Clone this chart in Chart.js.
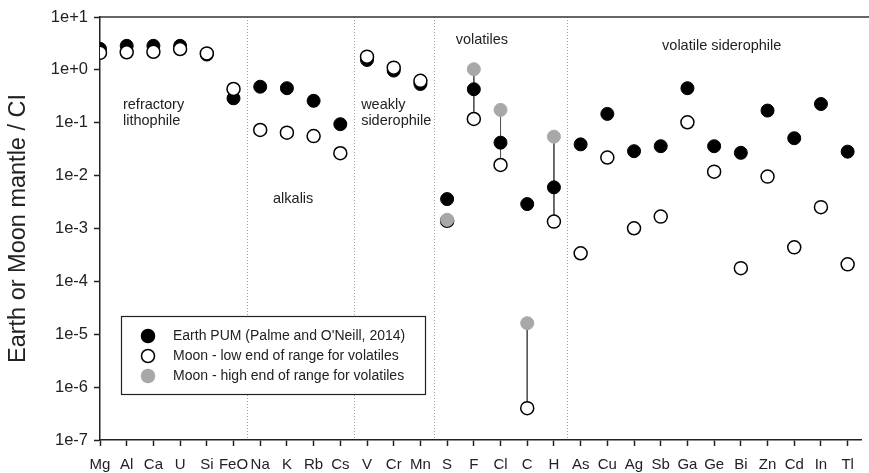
<!DOCTYPE html>
<html>
<head>
<meta charset="utf-8">
<script src="https://cdn.jsdelivr.net/npm/chart.js@4.4.1/dist/chart.umd.min.js"></script>
<style>
  html, body { margin: 0; padding: 0; background: #ffffff; }
  #wrap { width: 869px; height: 473px; position: relative; }
</style>
</head>
<body>
<div id="wrap"><canvas id="chart"></canvas></div>
<script>
// element categories along the x axis
const elements = ["Mg", "Al", "Ca", "U", "Si", "FeO", "Na", "K", "Rb", "Cs", "V", "Cr", "Mn",
  "S", "F", "Cl", "C", "H", "As", "Cu", "Ag", "Sb", "Ga", "Ge", "Bi", "Zn", "Cd", "In", "Tl"];

// Earth PUM (Palme and O'Neill, 2014)
const earthPUM = [2.5, 2.85, 2.85, 2.85, 1.95, 0.29, 0.48, 0.45, 0.26, 0.094, 1.54, 0.97, 0.54,
  0.0036, 0.43, 0.042, 0.0029, 0.006, 0.039, 0.147, 0.029, 0.036, 0.45, 0.036, 0.027, 0.17, 0.051, 0.226, 0.0284];

// Moon - low end of range for volatiles
const moonLow = [2.1, 2.15, 2.2, 2.48, 2.05, 0.435, 0.073, 0.065, 0.056, 0.0265, 1.78, 1.1, 0.62,
  0.0014, 0.118, 0.0159, 4.0e-7, 0.00135, 3.4e-4, 0.022, 0.00101, 0.00168, 0.102, 0.0119, 1.78e-4, 0.0096, 4.4e-4, 0.00253, 2.1e-4];

// Moon - high end of range for volatiles (only volatiles)
const moonHigh = [null, null, null, null, null, null, null, null, null, null, null, null, null,
  0.00146, 1.03, 0.175, 1.62e-5, 0.0546, null, null, null, null, null, null, null, null, null, null, null];

// group separators (between categories) and decade ticks
const separators = [5.5, 9.5, 12.5, 17.5];
const decades = [1e-7, 1e-6, 1e-5, 1e-4, 1e-3, 1e-2, 1e-1, 1e0, 1e1];

const groupLabels = [
  { lines: ["refractory", "lithophile"], x: 0.86, y: 0.217 },
  { lines: ["alkalis"], x: 6.48, y: 0.0036 },
  { lines: ["weakly", "siderophile"], x: 9.78, y: 0.217 },
  { lines: ["volatiles"], x: 13.32, y: 3.72 },
  { lines: ["volatile siderophile"], x: 21.05, y: 2.79 },
];

const legendItems = [
  { text: "Earth PUM (Palme and O'Neill, 2014)", fill: "#000000", stroke: "#000000" },
  { text: "Moon - low end of range for volatiles", fill: "#ffffff", stroke: "#000000" },
  { text: "Moon - high end of range for volatiles", fill: "#a8a8a8", stroke: "#a8a8a8" },
];

const FONT = "Arial, 'Liberation Sans', sans-serif";

function toPoints(arr) {
  return arr.map((v, i) => (v == null ? null : { x: i, y: v })).filter((p) => p);
}

// vertical range lines from high end to low end for the volatiles
const rangeLines = [];
moonHigh.forEach((v, i) => {
  if (v != null && Math.abs(Math.log10(v) - Math.log10(moonLow[i])) > 0.2) {
    rangeLines.push({ x: i, y: v }, { x: i, y: moonLow[i] }, { x: i, y: null });
  }
});

const extras = {
  id: "extras",
  beforeDatasetsDraw(chart) {
    const { ctx, chartArea, scales } = chart;
    ctx.save();
    // dotted group separators
    ctx.strokeStyle = "#a0a0a0";
    ctx.lineWidth = 1;
    ctx.setLineDash([1, 2]);
    separators.forEach((s) => {
      const x = Math.round(scales.x.getPixelForValue(s)) + 0.5;
      ctx.beginPath();
      ctx.moveTo(x, chartArea.top);
      ctx.lineTo(x, chartArea.bottom);
      ctx.stroke();
    });
    ctx.setLineDash([]);
    // top frame line
    ctx.strokeStyle = "#333333";
    ctx.lineWidth = 1.5;
    ctx.beginPath();
    ctx.moveTo(chartArea.left, chartArea.top);
    ctx.lineTo(chart.width, chartArea.top);
    ctx.stroke();
    // group labels
    ctx.fillStyle = "#222222";
    ctx.font = "14.5px " + FONT;
    ctx.textAlign = "left";
    ctx.textBaseline = "middle";
    groupLabels.forEach((g) => {
      const x = scales.x.getPixelForValue(g.x);
      const y = scales.y.getPixelForValue(g.y);
      g.lines.forEach((line, k) => ctx.fillText(line, x, y + k * 16));
    });
    ctx.restore();
  },
  afterDatasetsDraw(chart) {
    const { ctx, chartArea } = chart;
    ctx.save();
    const bx = chartArea.left + 21, by = chartArea.top + 299, bw = 304, bh = 78;
    ctx.fillStyle = "#ffffff";
    ctx.fillRect(bx, by, bw, bh);
    ctx.strokeStyle = "#222222";
    ctx.lineWidth = 1.2;
    ctx.strokeRect(bx + 0.5, by + 0.5, bw, bh);
    ctx.font = "14px " + FONT;
    ctx.textBaseline = "middle";
    ctx.textAlign = "left";
    legendItems.forEach((it, k) => {
      const cy = by + 20 + k * 20;
      ctx.beginPath();
      ctx.arc(bx + 27, cy, 6.5, 0, Math.PI * 2);
      ctx.fillStyle = it.fill;
      ctx.fill();
      ctx.lineWidth = 1.5;
      ctx.strokeStyle = it.stroke;
      ctx.stroke();
      ctx.fillStyle = "#222222";
      ctx.fillText(it.text, bx + 52, cy);
    });
    ctx.restore();
  },
};

new Chart(document.getElementById("chart"), {
  type: "scatter",
  data: {
    datasets: [
      {
        label: "range",
        data: rangeLines,
        showLine: true,
        spanGaps: false,
        borderColor: "#555555",
        borderWidth: 1,
        pointRadius: 0,
        order: 3,
      },
      {
        label: "Earth PUM (Palme and O'Neill, 2014)",
        data: toPoints(earthPUM),
        backgroundColor: "#000000",
        borderColor: "#000000",
        borderWidth: 1,
        pointRadius: 6.5,
        order: 2,
      },
      {
        label: "Moon - low end of range for volatiles",
        data: toPoints(moonLow),
        backgroundColor: "#ffffff",
        borderColor: "#000000",
        borderWidth: 1.5,
        pointRadius: 6.5,
        order: 1,
      },
      {
        label: "Moon - high end of range for volatiles",
        data: toPoints(moonHigh),
        backgroundColor: "#a8a8a8",
        borderColor: "#a8a8a8",
        borderWidth: 1,
        pointRadius: 6.5,
        order: 0,
      },
    ],
  },
  options: {
    responsive: true,
    maintainAspectRatio: false,
    animation: false,
    layout: { padding: { top: 17, right: 0, left: 0, bottom: 0 } },
    scales: {
      x: {
        type: "linear",
        min: 0,
        max: 28.5,
        afterBuildTicks: (scale) => {
          scale.ticks = elements.map((_, i) => ({ value: i }));
        },
        afterFit: (scale) => {
          scale.height = 33;
        },
        ticks: {
          autoSkip: false,
          maxRotation: 0,
          padding: 10,
          color: "#222222",
          font: { family: FONT, size: 15 },
          callback: (v) => elements[v],
        },
        grid: { display: true, drawOnChartArea: false, drawTicks: true, tickLength: 6, tickColor: "#222222", tickWidth: 1.5 },
        border: { display: true, color: "#222222", width: 1.5 },
      },
      y: {
        type: "logarithmic",
        min: 1e-7,
        max: 1e1,
        afterBuildTicks: (scale) => {
          scale.ticks = decades.map((v) => ({ value: v }));
        },
        afterFit: (scale) => {
          scale.width = 100;
        },
        ticks: {
          autoSkip: false,
          padding: 6,
          color: "#222222",
          font: { family: FONT, size: 16.5 },
          callback: (v) => {
            const e = Math.round(Math.log10(v));
            return "1e" + (e >= 0 ? "+" : "") + e;
          },
        },
        title: {
          display: true,
          text: "Earth or Moon mantle / CI",
          color: "#222222",
          font: { family: FONT, size: 23.5 },
          padding: { top: 4, bottom: 0 },
        },
        grid: { display: true, drawOnChartArea: false, drawTicks: true, tickLength: 6, tickColor: "#222222", tickWidth: 1.5 },
        border: { display: true, color: "#222222", width: 1.5 },
      },
    },
    plugins: {
      legend: { display: false },
      tooltip: { enabled: false },
    },
  },
  plugins: [extras],
});
</script>
</body>
</html>
